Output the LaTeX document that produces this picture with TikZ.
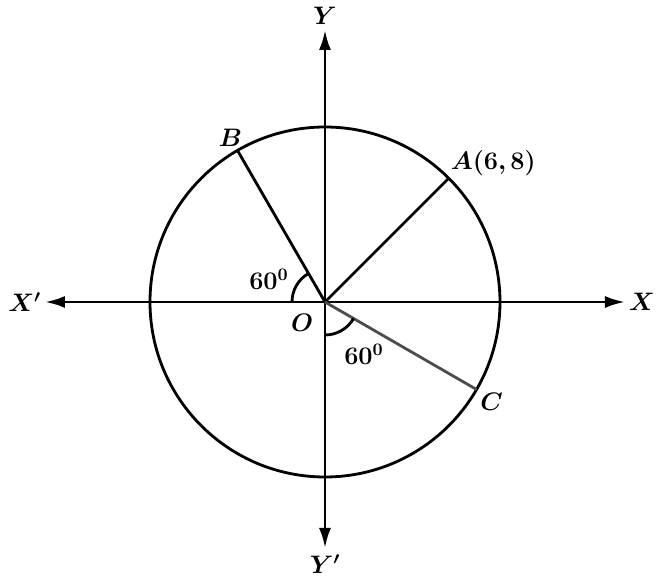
\documentclass[tikz,border=0pt]{standalone}
\usepackage{amsmath,amssymb,bm}
\usepackage{tikz}
\usetikzlibrary{arrows.meta}

\begin{document}
\begin{tikzpicture}[
    axis/.style={line width=1.6pt, -{Latex[length=4mm, width=2.4mm]}},
    seg/.style={line width=1.6pt},
    lbl/.style={font=\Large, inner sep=2pt},
    ang/.style={font=\Large, inner sep=1pt}
  ]
    \useasboundingbox (-6.5,-5.54) rectangle (6.62,6.04);
    \coordinate (O) at (0,0);
    \coordinate (A) at (45:3.5);
    \coordinate (B) at (120:3.5);
    \coordinate (C) at (-30:3.5);
    \coordinate (xl) at (-5.6,0);
    \coordinate (xr) at (6.0,0);
    \coordinate (yt) at (0,5.44);
    \coordinate (yb) at (0,-4.92);
    % axes
    \draw[axis] (O) -- (xr);
    \draw[axis] (O) -- (xl);
    \draw[axis] (O) -- (yt);
    \draw[axis] (O) -- (yb);
    \node[lbl, left] (xlab) at (xl) {$\bm{X'}$};
    \node[lbl, right] (xrlab) at (xr) {$\bm{X}$};
    \node[lbl] (ytlab) at (0,5.72) {$\bm{Y}$};
    \node[lbl] (yblab) at (0,-5.24) {$\bm{Y'}$};
    \node[lbl] (olab) at (-0.46,-0.42) {$\bm{O}$};
    % circle and radii
    \draw[seg] (O) circle (3.5);
    \draw[seg] (O) -- (A);
    \draw[seg] (O) -- (B);
    \draw[seg, draw=black!70] (O) -- (C);
    \node[lbl, anchor=south west, inner sep=1pt] (alab) at (A) {$\bm{A(6,8)}$};
    \node[lbl, anchor=south, xshift=-4pt] (blab) at (B) {$\bm{B}$};
    \node[lbl, anchor=north west] (clab) at (C) {$\bm{C}$};
    % angles
    \draw[seg] (120:0.66) arc (120:180:0.66);
    \draw[seg] (270:0.66) arc (270:330:0.66);
    \node[ang] (a1) at (-1.12,0.45) {$\bm{60^0}$};
    \node[ang] (a2) at (0.78,-1.04) {$\bm{60^0}$};
  \end{tikzpicture}
\end{document}
